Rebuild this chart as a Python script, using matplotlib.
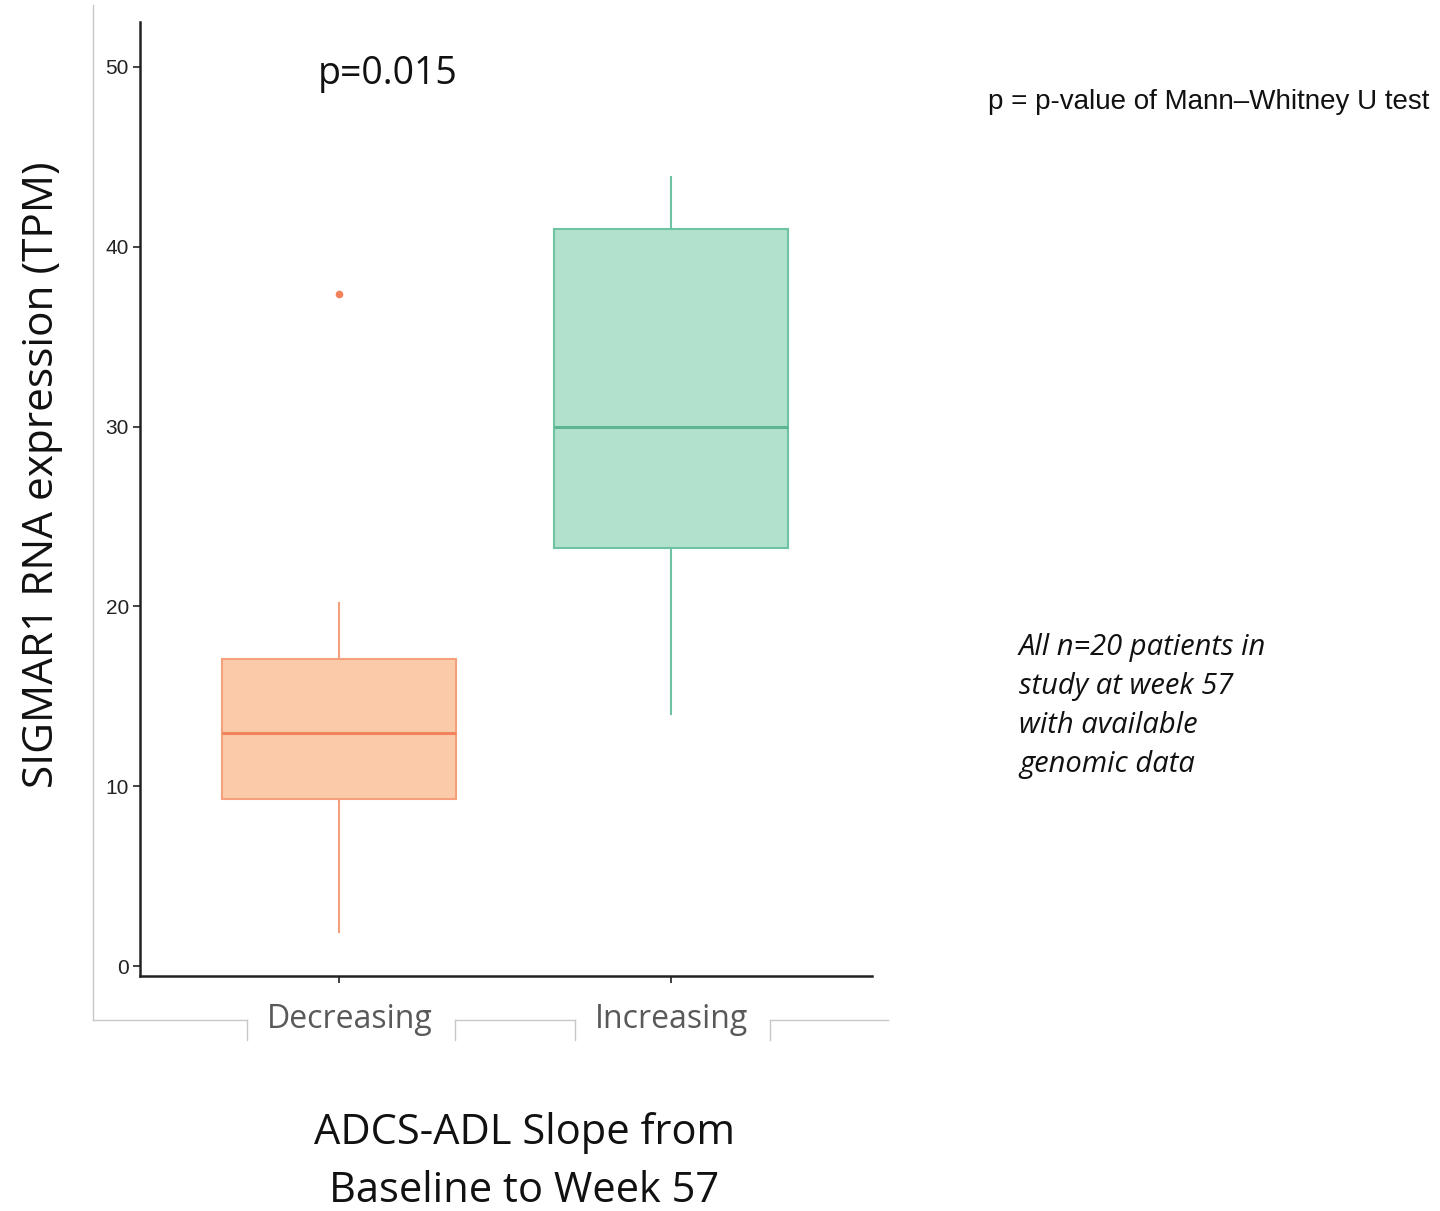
import matplotlib
matplotlib.use("Agg")
import matplotlib.pyplot as plt
from matplotlib.lines import Line2D

# ---- data ----
categories = ["Decreasing", "Increasing"]
whisker_low = [1.9, 14.0]
q1 = [9.3, 23.25]
median = [12.95, 30.0]
q3 = [17.1, 41.0]
whisker_high = [20.2, 43.9]
outliers = [[37.35], []]
y_ticks = [0, 10, 20, 30, 40, 50]
p_text = "p=0.015"

fill_colors = ["#FBCBA9", "#B2E2CE"]
edge_colors = ["#F4A07C", "#6DC3A2"]
median_colors = ["#F2825A", "#5DB594"]

W, H = 1440, 1211
fig = plt.figure(figsize=(W / 100, H / 100), dpi=100)

def fx(px):
    return px / W

def fy(py):
    return 1 - py / H

ax = fig.add_axes([fx(140), fy(976), fx(872) - fx(140), fy(22) - fy(976)])

stats = []
for i, c in enumerate(categories):
    stats.append(dict(label=c, whislo=whisker_low[i], q1=q1[i], med=median[i],
                      q3=q3[i], whishi=whisker_high[i], fliers=outliers[i]))

positions = [1, 2]
bp = ax.bxp(stats, positions=positions, widths=0.705, patch_artist=True,
            showcaps=False, manage_ticks=False)
for i, box in enumerate(bp["boxes"]):
    box.set_facecolor(fill_colors[i])
    box.set_edgecolor(edge_colors[i])
    box.set_linewidth(1.5)
for i, med in enumerate(bp["medians"]):
    med.set_color(median_colors[i])
    med.set_linewidth(2.2)
for j, wl in enumerate(bp["whiskers"]):
    wl.set_color(edge_colors[j // 2])
    wl.set_linewidth(1.5)
for i, fl in enumerate(bp["fliers"]):
    fl.set_marker("o")
    fl.set_markerfacecolor(median_colors[i])
    fl.set_markeredgecolor(median_colors[i])
    fl.set_markersize(4.5)

ax.set_xlim(0.40, 2.605)
ax.set_ylim(-0.556, 52.5)
ax.set_yticks(y_ticks)
ax.set_yticklabels([str(t) for t in y_ticks], fontsize=15, family="Liberation Sans", color="#222222")
ax.set_xticks(positions)
ax.set_xticklabels([])
ax.tick_params(axis="both", length=5, width=1.2, color="#222222")
ax.tick_params(axis="y", pad=3)
for s in ["top", "right"]:
    ax.spines[s].set_visible(False)
for s in ["left", "bottom"]:
    ax.spines[s].set_linewidth(1.8)
    ax.spines[s].set_color("#222222")

# p-value annotation
ax.text(1.145, 49.6, p_text, fontsize=27, family="Open Sans", ha="center", va="center", color="#111111")

# category labels (gray, below frame line)
label_offsets_px = [11, 0]
for pos, c, off in zip(positions, categories, label_offsets_px):
    x_disp = ax.transData.transform((pos, 0))[0]
    fig.text((x_disp + off) / W, fy(1019), c, fontsize=23, family="Open Sans", color="#595959",
             ha="center", va="center")

# y label
fig.text(fx(42), fy(475), "SIGMAR1 RNA expression (TPM)", rotation=90, fontsize=30.5,
         family="Open Sans", ha="center", va="center", color="#111111")

# x axis title
fig.text(fx(524), fy(1162), "ADCS-ADL Slope from\nBaseline to Week 57", fontsize=30,
         family="Open Sans", ha="center", va="center", linespacing=1.5, color="#111111")

# right-side notes
fig.text(fx(988), fy(102), "p = p-value of Mann\u2013Whitney U test", fontsize=20,
         family="Liberation Sans", ha="left", va="center", color="#111111")
fig.text(fx(1019), fy(706), "All n=20 patients in\nstudy at week 57\nwith available\ngenomic data",
         fontsize=21, family="Open Sans", style="italic", ha="left", va="center",
         linespacing=1.45, color="#111111")

# faint frame lines (pasted-image border)
gray = "#C8C8C8"
frame_segments = [
    ((93, 5), (93, 1020)),
    ((93, 1020), (247, 1020)),
    ((455, 1020), (575, 1020)),
    ((770, 1020), (888, 1020)),
    ((247, 1020), (247, 1040)),
    ((455, 1020), (455, 1040)),
    ((575, 1020), (575, 1040)),
    ((770, 1020), (770, 1040)),
]
for (x0, y0), (x1, y1) in frame_segments:
    fig.add_artist(Line2D([fx(x0), fx(x1)], [fy(y0), fy(y1)], transform=fig.transFigure,
                          color=gray, linewidth=1.0))

fig.savefig("out.png", dpi=100)
